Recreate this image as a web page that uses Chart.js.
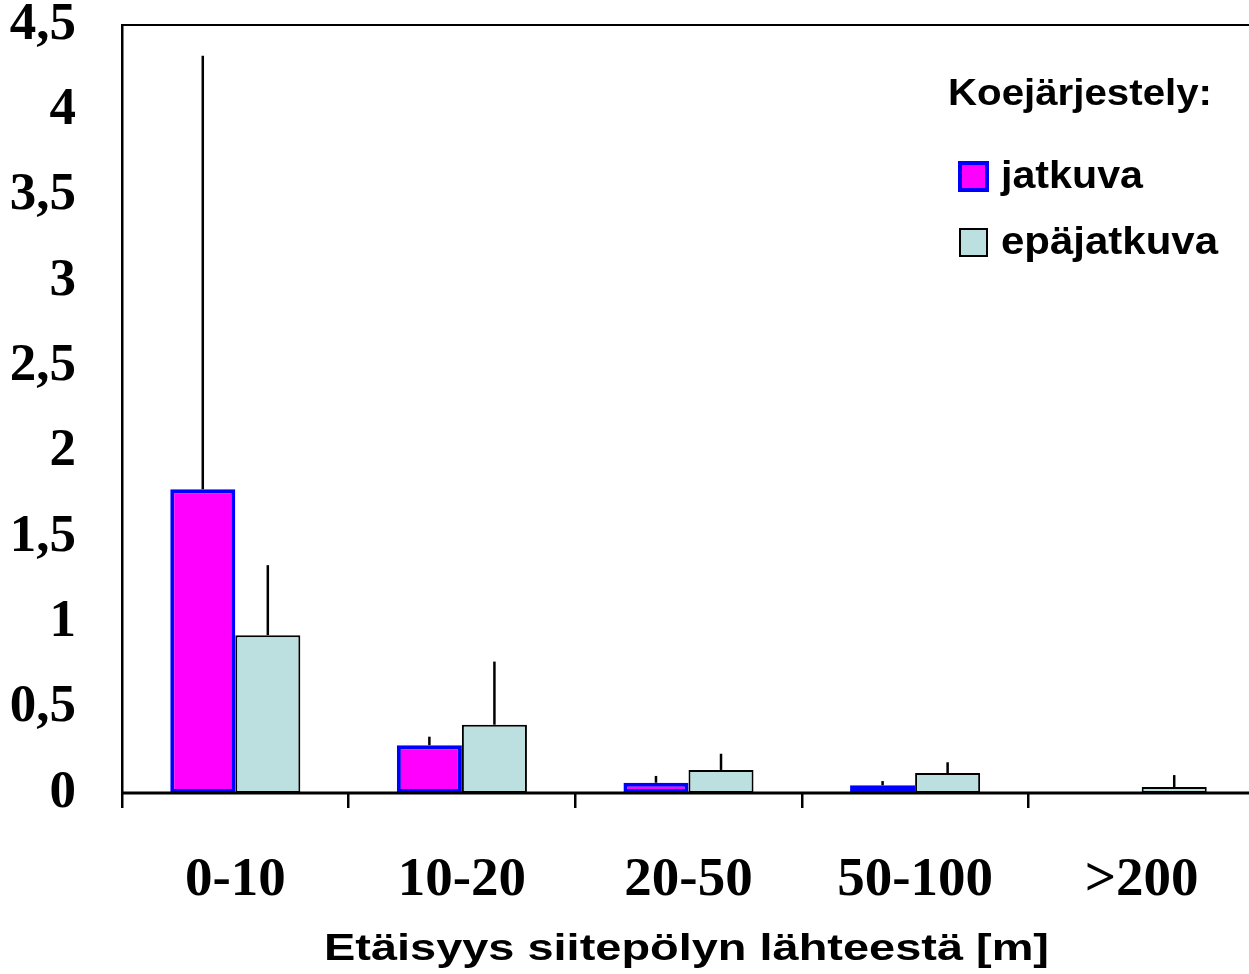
<!DOCTYPE html>
<html>
<head>
<meta charset="utf-8">
<script src="https://cdn.jsdelivr.net/npm/chart.js@4"></script>
<style>
  html, body { margin: 0; padding: 0; background: #fff; overflow: hidden; }
  #wrap { width: 1262px; height: 974px; }
</style>
</head>
<body>
<div id="wrap"><canvas id="c" width="1262" height="974"></canvas></div>
<script>
const categories = ['0-10', '10-20', '20-50', '50-100', '>200'];
const jatkuva = [1.78, 0.28, 0.06, 0.045, null];
const jatkuvaUpper = [4.32, 0.33, 0.10, 0.07, null];
const epajatkuva = [0.925, 0.40, 0.135, 0.117, 0.035];
const epajatkuvaUpper = [1.335, 0.77, 0.23, 0.18, 0.105];
const seriesNames = ['jatkuva', 'epäjatkuva'];
const legendTitle = 'Koejärjestely:';
const xTitle = 'Etäisyys siitepölyn lähteestä [m]';

function stretchedText(ctx, text, x, y, width, font, align) {
  ctx.save();
  ctx.font = font;
  const w = ctx.measureText(text).width;
  const sx = width / w;
  ctx.translate(x, y);
  ctx.scale(sx, 1);
  ctx.textAlign = align;
  ctx.fillText(text, 0, 0);
  ctx.restore();
}

const errorBars = {
  id: 'errorBars',
  afterDatasetsDraw(chart) {
    const ctx = chart.ctx;
    const ys = chart.scales.y;
    chart.data.datasets.forEach((ds, di) => {
      const meta = chart.getDatasetMeta(di);
      meta.data.forEach((bar, i) => {
        const up = ds.upper[i];
        if (up == null || ds.data[i] == null) return;
        ctx.save();
        ctx.strokeStyle = '#000';
        ctx.lineWidth = 2.5;
        ctx.beginPath();
        ctx.moveTo(bar.x, bar.y);
        ctx.lineTo(bar.x, ys.getPixelForValue(up));
        ctx.stroke();
        ctx.restore();
      });
    });
  }
};

const frame = {
  id: 'frame',
  afterDraw(chart) {
    const ctx = chart.ctx;
    const a = chart.chartArea;
    ctx.save();
    ctx.strokeStyle = '#000';
    ctx.lineWidth = 2;
    ctx.beginPath();
    ctx.moveTo(a.left, a.top);
    ctx.lineTo(a.right, a.top);
    ctx.lineTo(a.right, a.bottom);
    ctx.stroke();
    ctx.lineWidth = 3;
    ctx.beginPath();
    ctx.moveTo(a.left, a.bottom);
    ctx.lineTo(a.right, a.bottom);
    ctx.stroke();
    ctx.fillStyle = '#000';
    ctx.textBaseline = 'middle';
    // x axis title
    stretchedText(ctx, xTitle, (a.left + a.right) / 2 - 2, 950, 725,
      'bold 37px "Liberation Sans", Arial, sans-serif', 'center');
    // legend
    stretchedText(ctx, legendTitle, 948, 95, 264,
      'bold 36px "Liberation Sans", Arial, sans-serif', 'left');
    const items = chart.data.datasets;
    const ys = [177, 243];
    const widths = [142, 217];
    items.forEach((ds, i) => {
      const y = ys[i];
      ctx.fillStyle = ds.backgroundColor;
      ctx.fillRect(960, y - 14, 27, 27);
      ctx.strokeStyle = ds.borderColor;
      ctx.lineWidth = i === 0 ? 4 : 2;
      ctx.strokeRect(960, y - 14, 27, 27);
      ctx.fillStyle = '#000';
      stretchedText(ctx, ds.label, 1001, y + 1, widths[i],
        'bold 38px "Liberation Sans", Arial, sans-serif', 'left');
    });
    ctx.restore();
  }
};

new Chart(document.getElementById('c'), {
  type: 'bar',
  data: {
    labels: categories,
    datasets: [
      {
        label: seriesNames[0],
        data: jatkuva,
        upper: jatkuvaUpper,
        backgroundColor: '#FF00FF',
        borderColor: '#0000FF',
        borderWidth: 4,
        borderSkipped: false
      },
      {
        label: seriesNames[1],
        data: epajatkuva,
        upper: epajatkuvaUpper,
        backgroundColor: '#BCE0E0',
        borderColor: '#000000',
        borderWidth: 2,
        borderSkipped: false
      }
    ]
  },
  options: {
    responsive: false,
    animation: false,
    devicePixelRatio: 1,
    layout: { padding: { left: 0, top: 25, right: 7, bottom: 0 } },
    datasets: { bar: { categoryPercentage: 0.574, barPercentage: 1 } },
    plugins: { legend: { display: false }, tooltip: { enabled: false } },
    scales: {
      x: {
        offset: true,
        afterFit(s) { s.height = 181; s.paddingLeft = 0; s.paddingRight = 0; },
        border: { display: false },
        grid: {
          offset: true,
          drawOnChartArea: false,
          drawTicks: true,
          tickLength: 15,
          color: '#000',
          lineWidth: 2.5
        },
        ticks: {
          color: '#000',
          padding: 40,
          font: { family: '"Liberation Serif", "Times New Roman", serif', size: 55, weight: 'bold' }
        },
        title: { display: false }
      },
      y: {
        min: 0,
        max: 4.5,
        afterFit(s) { s.width = 122; s.paddingTop = 0; s.paddingBottom = 0; },
        border: { display: true, color: '#000', width: 2.5 },
        grid: { display: false, drawTicks: false },
        ticks: {
          stepSize: 0.5,
          color: '#000',
          padding: 46,
          font: { family: '"Liberation Serif", "Times New Roman", serif', size: 53, weight: 'bold' },
          callback: v => String(v).replace('.', ',')
        }
      }
    }
  },
  plugins: [errorBars, frame]
});
</script>
</body>
</html>
